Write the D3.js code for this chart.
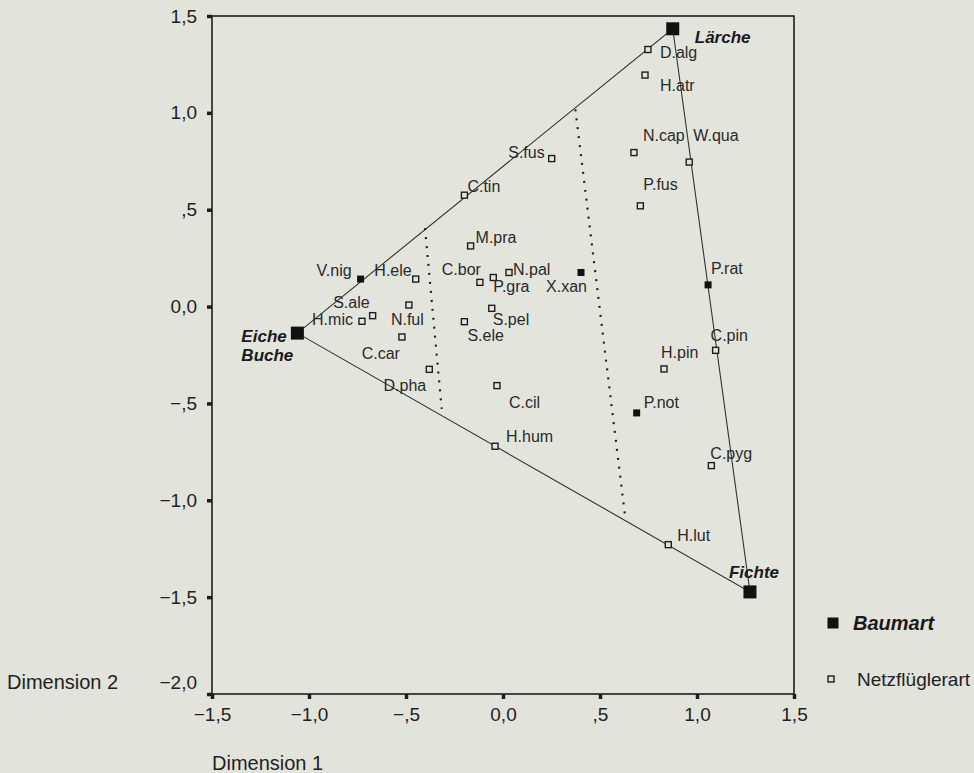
<!DOCTYPE html>
<html>
<head>
<meta charset="utf-8">
<script src="https://cdn.jsdelivr.net/npm/d3@7"></script>
<style>
  html, body { margin: 0; padding: 0; background: #e2e3db; }
  svg { display: block; font-family: "Liberation Sans", Arial, sans-serif; }
</style>
</head>
<body>
<svg id="chart" width="974" height="773"></svg>
<script>
// Baumarten (tree species) - the triangle vertices
const treeNames = ["Lärche", "Eiche Buche", "Fichte"];
const treeX = [0.875, -1.060, 1.273];
const treeY = [1.434, -0.137, -1.473];

// Netzflügler species drawn as small filled squares
const filledNames = ["V.nig", "X.xan", "P.rat", "P.not"];
const filledX = [-0.734, 0.402, 1.057, 0.689];
const filledY = [0.142, 0.176, 0.112, -0.549];

// Netzflüglerarten (open squares)
const speciesNames = ["D.alg", "H.atr", "N.cap", "W.qua", "S.fus", "C.tin", "P.fus", "M.pra",
  "H.ele", "C.bor", "S.ale", "N.ful", "H.mic", "C.car", "D.pha", "S.ele", "P.gra", "N.pal",
  "S.pel", "C.cil", "H.hum", "C.pin", "H.pin", "C.pyg", "H.lut"];
const speciesX = [0.747, 0.732, 0.675, 0.960, 0.251, -0.199, 0.708, -0.167,
  -0.450, -0.119, -0.672, -0.485, -0.727, -0.521, -0.380, -0.199, -0.050, 0.031,
  -0.058, -0.031, -0.041, 1.096, 0.830, 1.074, 0.852];
const speciesY = [1.327, 1.195, 0.795, 0.746, 0.764, 0.575, 0.520, 0.313,
  0.142, 0.125, -0.047, 0.008, -0.076, -0.157, -0.324, -0.078, 0.150, 0.176,
  -0.009, -0.408, -0.721, -0.226, -0.322, -0.821, -1.229];

// dotted separator lines: [x1, y1, x2, y2]
const dividerA = [-0.402, 0.405, -0.316, -0.528];
const dividerB = [0.373, 1.018, 0.632, -1.104];

const xTicks = [-1.5, -1.0, -0.5, 0.0, 0.5, 1.0, 1.5];
const yTicks = [-2.0, -1.5, -1.0, -0.5, 0.0, 0.5, 1.0, 1.5];

// label placement (pixel offset from the marker, text anchor)
const labelPos = {
  "D.alg": [12, 3, "start"], "H.atr": [15, 10, "start"], "N.cap": [9, -17, "start"],
  "W.qua": [4, -27, "start"], "S.fus": [-7, -6, "end"], "C.tin": [3, -9, "start"],
  "P.fus": [3, -21, "start"], "M.pra": [5, -9, "start"], "V.nig": [-9, -9, "end"],
  "H.ele": [-4, -9, "end"], "C.bor": [1, -13, "end"], "S.ale": [-3, -13, "end"],
  "H.mic": [-9, -2, "end"], "N.ful": [-18, 14, "start"], "C.car": [-2, 16, "end"],
  "D.pha": [-3, 16, "end"], "S.ele": [3, 14, "start"], "P.gra": [0, 9, "start"],
  "N.pal": [4, -3, "start"], "X.xan": [6, 14, "end"], "S.pel": [1, 11, "start"],
  "C.cil": [12, 17, "start"], "H.hum": [11, -10, "start"], "P.rat": [3, -16, "start"],
  "C.pin": [-5, -15, "start"], "H.pin": [-3, -17, "start"], "P.not": [7, -11, "start"],
  "C.pyg": [-1, -12, "start"], "H.lut": [9, -9, "start"]
};
const treeLabelPos = { "Lärche": [22, 8], "Fichte": [-21, -20], "Eiche Buche": [-56, 3] };

const svg = d3.select("#chart");
const margin = { left: 212, right: 180, top: 16, bottom: 79 };
const width = 974 - margin.left - margin.right;
const height = 773 - margin.top - margin.bottom;

const x = d3.scaleLinear().domain([-1.5, 1.5]).range([margin.left, margin.left + width]);
const y = d3.scaleLinear().domain([-2.0, 1.5]).range([margin.top + height, margin.top]);

function fmt(d) {
  let s = d3.format(".1f")(d).replace(".", ",");
  if (Math.abs(d) < 1 && d !== 0) s = s.replace("0,", ",");
  return s;
}

const ink = "#1e1e1e";

// frame
svg.append("rect")
  .attr("x", x(-1.5)).attr("y", y(1.5))
  .attr("width", x(1.5) - x(-1.5)).attr("height", y(-2.0) - y(1.5))
  .attr("fill", "#e3e4dc").attr("stroke", ink).attr("stroke-width", 1.6);

// axes
const yAxis = svg.append("g")
  .attr("transform", `translate(${x(-1.5)},0)`)
  .call(d3.axisLeft(y).tickValues(yTicks).tickFormat(fmt).tickSize(5).tickPadding(10));
const xAxis = svg.append("g")
  .attr("transform", `translate(0,${y(-2.0)})`)
  .call(d3.axisBottom(x).tickValues(xTicks).tickFormat(fmt).tickSize(5).tickPadding(9));
[xAxis, yAxis].forEach(g => {
  g.select(".domain").remove();
  g.selectAll(".tick line").attr("stroke", ink).attr("stroke-width", 3.5);
  g.selectAll(".tick text").attr("fill", "#222").style("font-size", "19px")
    .style("font-family", "'Liberation Sans', Arial, sans-serif");
});
// lowest y label sits a bit higher so it clears the x axis labels
yAxis.selectAll(".tick text").filter(d => d === -2.0).attr("dy", "-0.3em");

// axis titles
svg.append("text").attr("x", x(-1.5)).attr("y", 770)
  .attr("fill", "#222").style("font-size", "20px").text("Dimension 1");
svg.append("text").attr("x", 7).attr("y", y(-2.0) - 5)
  .attr("fill", "#222").style("font-size", "20px").text("Dimension 2");

// triangle
const tri = treeNames.map((n, i) => [x(treeX[i]), y(treeY[i])]);
const line = d3.line();
svg.append("path")
  .attr("d", line([tri[1], tri[0], tri[2], tri[1]]))
  .attr("fill", "none").attr("stroke", "#333").attr("stroke-width", 1.1);

// dotted dividers
[dividerA, dividerB].forEach(dv => {
  svg.append("line")
    .attr("x1", x(dv[0])).attr("y1", y(dv[1]))
    .attr("x2", x(dv[2])).attr("y2", y(dv[3]))
    .attr("stroke", "#222").attr("stroke-width", 2.2)
    .attr("stroke-dasharray", "2,7");
});

// open squares
const openSize = 6;
svg.append("g").selectAll("rect")
  .data(speciesNames)
  .join("rect")
  .attr("x", (d, i) => x(speciesX[i]) - openSize / 2)
  .attr("y", (d, i) => y(speciesY[i]) - openSize / 2)
  .attr("width", openSize).attr("height", openSize)
  .attr("fill", "#e3e4dc").attr("stroke", ink).attr("stroke-width", 1.4);

// small filled squares
const fillSize = 7;
svg.append("g").selectAll("rect")
  .data(filledNames)
  .join("rect")
  .attr("x", (d, i) => x(filledX[i]) - fillSize / 2)
  .attr("y", (d, i) => y(filledY[i]) - fillSize / 2)
  .attr("width", fillSize).attr("height", fillSize)
  .attr("fill", "#111");

// big squares (Baumart)
const bigSize = 13;
svg.append("g").selectAll("rect")
  .data(treeNames)
  .join("rect")
  .attr("x", (d, i) => x(treeX[i]) - bigSize / 2)
  .attr("y", (d, i) => y(treeY[i]) - bigSize / 2)
  .attr("width", bigSize).attr("height", bigSize)
  .attr("fill", "#111");

// point labels
const allNames = speciesNames.concat(filledNames);
const allX = speciesX.concat(filledX);
const allY = speciesY.concat(filledY);
svg.append("g").selectAll("text")
  .data(allNames)
  .join("text")
  .attr("x", (d, i) => x(allX[i]) + labelPos[d][0])
  .attr("y", (d, i) => y(allY[i]) + labelPos[d][1])
  .attr("dy", "0.35em")
  .attr("text-anchor", d => labelPos[d][2])
  .attr("fill", "#2a2a2a")
  .style("font-size", "16px")
  .text(d => d);

// tree labels (multi-word names get one line per word)
treeNames.forEach((n, i) => {
  n.split(" ").forEach((part, j) => {
    svg.append("text")
      .attr("x", x(treeX[i]) + treeLabelPos[n][0])
      .attr("y", y(treeY[i]) + treeLabelPos[n][1] + j * 19)
      .attr("dy", "0.35em")
      .attr("fill", "#1a1a1a")
      .style("font-size", "17px").style("font-weight", "bold").style("font-style", "italic")
      .text(part);
  });
});

// legend
const lg = svg.append("g").attr("transform", "translate(833,623)");
lg.append("rect").attr("x", -5.5).attr("y", -5.5).attr("width", 11).attr("height", 11).attr("fill", "#111");
lg.append("text").attr("x", 20).attr("dy", "0.35em").attr("fill", "#1a1a1a")
  .style("font-size", "20px").style("font-weight", "bold").style("font-style", "italic")
  .text("Baumart");
lg.append("rect").attr("x", -5).attr("y", 53).attr("width", 6).attr("height", 6)
  .attr("fill", "none").attr("stroke", ink).attr("stroke-width", 1.4);
lg.append("text").attr("x", 24).attr("y", 56).attr("dy", "0.35em").attr("fill", "#222")
  .style("font-size", "19px").text("Netzflüglerart");
</script>
</body>
</html>
